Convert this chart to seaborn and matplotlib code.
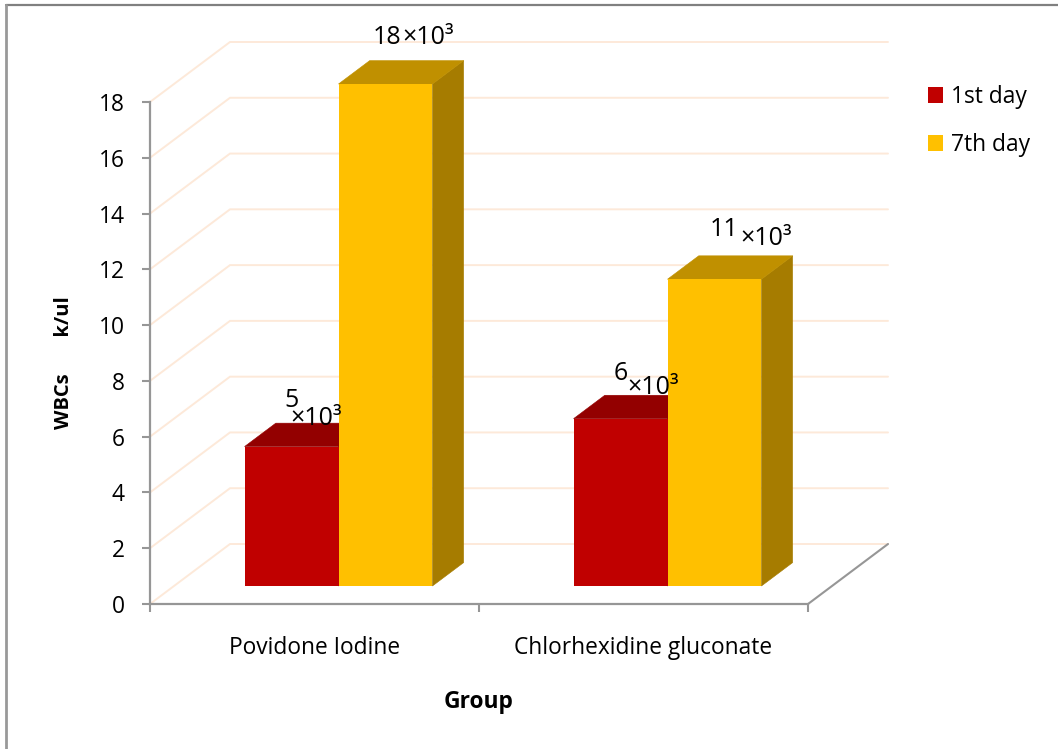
import matplotlib
matplotlib.use("Agg")
import matplotlib.pyplot as plt
from matplotlib.lines import Line2D
from matplotlib.patches import Polygon
import pandas as pd
import seaborn as sns

groups = ["Povidone Iodine", "Chlorhexidine gluconate"]
series_names = ["1st day", "7th day"]
day1_values = [5, 6]
day7_values = [18, 11]
y_ticks = list(range(0, 20, 2))
x_title = "Group"
y_title = "WBCs       k/ul"
multiplier_text = "×10³"

front_colors = ["#c00000", "#ffc000"]
top_colors = ["#930000", "#c09000"]
side_colors = ["#7a0000", "#a67c00"]
grid_color = "#fde9d9"
axis_color = "#969696"

W, H = 1058, 749
AX_L, AX_R, AX_T, AX_B = 150, 808, 102, 604
FS = 16.4
LABEL_FS = 18

sns.set_theme(style="white")
plt.rcParams["font.family"] = ["Open Sans", "DejaVu Sans"]

df = pd.DataFrame({
    "group": groups * 2,
    "day": [series_names[0]] * 2 + [series_names[1]] * 2,
    "value": day1_values + day7_values,
})

fig = plt.figure(figsize=(W / 100, H / 100), dpi=100, facecolor="white")
ax = fig.add_axes([AX_L / W, 1 - AX_B / H, (AX_R - AX_L) / W, (AX_B - AX_T) / H])
sns.barplot(data=df, x="group", y="value", hue="day", order=groups,
            hue_order=series_names, palette=front_colors, saturation=1,
            width=0.571, gap=0, linewidth=0, errorbar=None, ax=ax, zorder=3)
ax.set_xlim(-0.5, 1.5)
ax.set_ylim(0, 18)
ax.set_facecolor("none")

# pixel-to-data scales for the oblique depth of the 3D look
px_x = 2.0 / (AX_R - AX_L)
px_y = 18.0 / (AX_B - AX_T)
depth_x, depth_y = 80 * px_x, 60 * px_y
front_frac, bar_frac = 0.3, 0.39

# back walls: gridlines run up the side wall, then across the back wall
for v in y_ticks:
    ax.plot([-0.5, -0.5 + depth_x, 1.5 + depth_x], [v, v + depth_y, v + depth_y],
            color=grid_color, lw=1.4, clip_on=False, zorder=1,
            solid_joinstyle="miter")
ax.plot([1.5, 1.5 + depth_x], [0, depth_y], color=axis_color, lw=1.5,
        clip_on=False, zorder=2)

# bars are moved onto the front plane, then top and side faces are added
shift_x, shift_y = depth_x * front_frac, depth_y * front_frac
bx, by = depth_x * bar_frac, depth_y * bar_frac
for i, container in enumerate(ax.containers):
    for bar in container:
        bar.set_x(bar.get_x() + shift_x)
        bar.set_y(shift_y)
        bar.set_clip_on(False)
        x0, x1 = bar.get_x(), bar.get_x() + bar.get_width()
        y0, y1 = bar.get_y(), bar.get_y() + bar.get_height()
        ax.add_patch(Polygon([(x0, y1), (x1, y1), (x1 + bx, y1 + by), (x0 + bx, y1 + by)],
                             closed=True, fc=top_colors[i], ec=top_colors[i], lw=0.4,
                             clip_on=False, zorder=2.6))
        ax.add_patch(Polygon([(x1, y0), (x1, y1), (x1 + bx, y1 + by), (x1 + bx, y0 + by)],
                             closed=True, fc=side_colors[i], ec=side_colors[i], lw=0.4,
                             clip_on=False, zorder=2.5))

# axes
sns.despine(ax=ax)
for side in ("left", "bottom"):
    ax.spines[side].set_color(axis_color)
    ax.spines[side].set_linewidth(1.6)
ax.set_yticks(y_ticks)
ax.set_xticks([0, 1], groups)
ax.set_xticks([-0.5, 0.5, 1.5], minor=True)
ax.tick_params(axis="y", which="major", left=True, length=6, width=1.5, color=axis_color,
               labelsize=FS, labelcolor="black", pad=12)
ax.tick_params(axis="x", which="major", bottom=False, length=0, labelsize=FS,
               labelcolor="black", pad=23)
ax.tick_params(axis="x", which="minor", bottom=True, length=6, width=1.5, color=axis_color)

ax.set_xlabel(x_title, fontsize=FS, fontweight="bold", color="black")
ax.xaxis.set_label_coords(0.499, (AX_B - 690) / (AX_B - AX_T))
ax.set_ylabel(y_title, fontsize=14.5, fontweight="bold", color="black")
ax.yaxis.set_label_coords((74 - AX_L) / (AX_R - AX_L), (AX_B - 363) / (AX_B - AX_T))

# data labels, placed relative to each bar's top edge (pixels)
value_offsets = [[(0, 46), (0, 45)], [(2, 47), (10, 50)]]
mult_offsets = [[(-1, 28), (7, 31)], [(17, 46), (26, 41)]]
values = [day1_values, day7_values]
for i, container in enumerate(ax.containers):
    for j, bar in enumerate(container):
        xy = (bar.get_x() + bar.get_width() / 2, bar.get_y() + bar.get_height())
        ax.annotate(str(values[i][j]), xy=xy, xytext=value_offsets[i][j],
                    textcoords="offset pixels", ha="center", va="center",
                    fontsize=LABEL_FS, color="black", zorder=6, annotation_clip=False)
        ax.annotate(multiplier_text, xy=xy, xytext=mult_offsets[i][j],
                    textcoords="offset pixels", ha="left", va="center",
                    fontsize=LABEL_FS, color="black", zorder=6, annotation_clip=False)

# legend
handles, labels = ax.get_legend_handles_labels()
ax.legend(handles, labels, loc="upper left", bbox_to_anchor=(928 / W, 1 - 85 / H),
          bbox_transform=fig.transFigure, frameon=False, fontsize=FS,
          handlelength=0.66, handleheight=0.66, handletextpad=0.35,
          labelspacing=1.05, borderpad=0, borderaxespad=0, labelcolor="black")

# outer frame of the picture
fig.add_artist(Line2D([6 / W, 1], [1 - 5 / H, 1 - 5 / H], color="#808080", lw=1.6,
                      transform=fig.transFigure))
fig.add_artist(Line2D([6 / W, 6 / W], [0, 1 - 5 / H], color="#999999", lw=2.0,
                      transform=fig.transFigure))

fig.savefig("out.png", dpi=100)
